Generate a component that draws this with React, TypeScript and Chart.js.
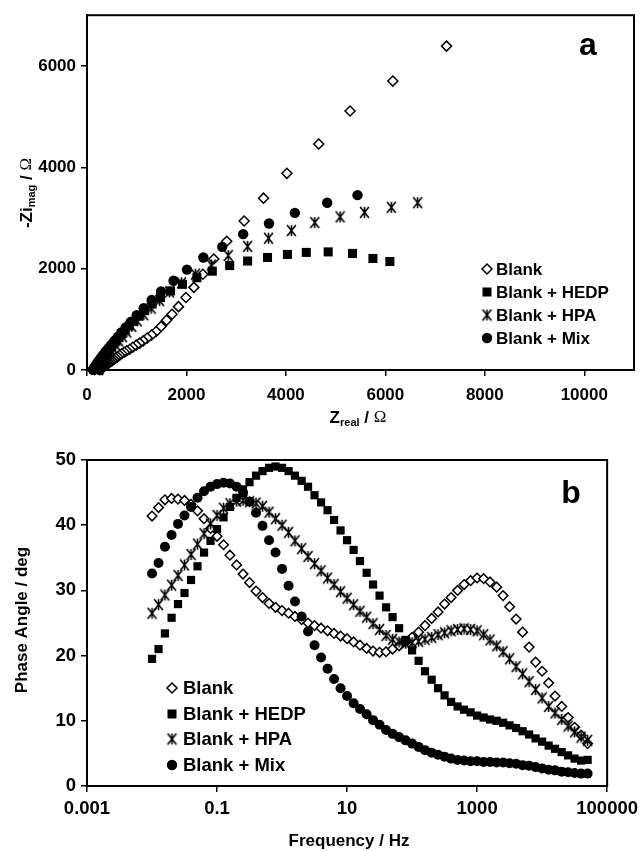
import React, { useEffect, useRef } from "react";
import { Chart, registerables } from "chart.js";
Chart.register(...registerables);

const FONT = "'Liberation Sans', Arial, Helvetica, sans-serif";
const SERIF = "'Liberation Serif', 'DejaVu Serif', serif";

const seriesLabels = ["Blank", "Blank + HEDP", "Blank + HPA", "Blank + Mix"];

// ---------- Panel a : Nyquist (Z real, -Z imag) in ohm ----------
const blankZre = [7230, 6150, 5290, 4660, 4020, 3550, 3160, 2810, 2550, 2330, 2150, 1990, 1840, 1710, 1600, 1490, 1390, 1300, 1210, 1130, 1060, 990, 920, 860, 800, 750, 700, 655, 615, 575, 540, 505, 475, 445, 420, 395, 370, 350, 330, 315, 300, 290, 280, 270, 260];
const blankZim = [6390, 5700, 5110, 4460, 3880, 3390, 2940, 2540, 2190, 1890, 1630, 1430, 1250, 1100, 980, 860, 760, 690, 630, 575, 530, 490, 450, 410, 380, 350, 320, 290, 260, 235, 210, 185, 165, 145, 125, 110, 95, 80, 65, 52, 40, 30, 20, 12, 5];

const hedpZre = [6090, 5750, 5340, 4850, 4410, 4030, 3630, 3230, 2870, 2520, 2210, 1920, 1680, 1480, 1310, 1160, 1040, 940, 850, 770, 700, 640, 585, 535, 490, 450, 415, 385, 355, 330, 310, 290, 270, 255, 240, 228, 218, 208, 200, 193, 187, 182];
const hedpZim = [2140, 2200, 2300, 2330, 2320, 2280, 2220, 2150, 2060, 1950, 1820, 1690, 1560, 1430, 1300, 1170, 1060, 960, 870, 790, 710, 640, 575, 515, 460, 410, 360, 315, 275, 240, 205, 175, 145, 120, 100, 80, 62, 47, 34, 23, 14, 7];

const hpaZre = [6650, 6120, 5580, 5090, 4580, 4110, 3650, 3230, 2840, 2500, 2180, 1900, 1660, 1460, 1290, 1140, 1010, 900, 800, 715, 640, 575, 520, 470, 430, 395, 365, 340, 318, 300, 285, 272, 262, 253, 246, 240, 235, 231, 228];
const hpaZim = [3300, 3210, 3110, 3020, 2910, 2750, 2600, 2440, 2260, 2070, 1890, 1720, 1540, 1370, 1220, 1090, 970, 860, 750, 655, 570, 495, 430, 375, 325, 280, 240, 205, 172, 145, 120, 98, 80, 63, 49, 37, 27, 18, 10];

const mixZre = [5440, 4830, 4180, 3660, 3140, 2720, 2340, 2010, 1740, 1490, 1300, 1140, 1000, 880, 780, 690, 615, 550, 490, 440, 395, 355, 320, 290, 262, 238, 216, 198, 182, 168, 156, 146, 138, 131, 126, 122];
const mixZim = [3450, 3300, 3100, 2890, 2680, 2430, 2220, 1980, 1760, 1550, 1380, 1220, 1080, 950, 840, 740, 650, 570, 500, 440, 385, 335, 290, 250, 212, 178, 147, 120, 96, 75, 57, 42, 29, 18, 10, 4];

const nyqXTicks = [0, 2000, 4000, 6000, 8000, 10000];
const nyqYTicks = [0, 2000, 4000, 6000];

// ---------- Panel b : Bode phase ----------
const freqHz = [
  0.01, 0.0126, 0.0158, 0.02, 0.0251, 0.0316, 0.0398, 0.0501, 0.0631, 0.0794,
  0.1, 0.126, 0.158, 0.2, 0.251, 0.316, 0.398, 0.501, 0.631, 0.794,
  1, 1.26, 1.58, 2, 2.51, 3.16, 3.98, 5.01, 6.31, 7.94,
  10, 12.6, 15.8, 20, 25.1, 31.6, 39.8, 50.1, 63.1, 79.4,
  100, 126, 158, 200, 251, 316, 398, 501, 631, 794,
  1000, 1260, 1580, 2000, 2510, 3160, 3980, 5010, 6310, 7940,
  10000, 12600, 15800, 20000, 25100, 31600, 39800, 50100,
];
const blankPhase = [
  41.4, 42.7, 43.9, 44.1, 44.0, 43.8, 43.2, 42.2, 41.0, 39.5,
  38.3, 37.0, 35.4, 33.9, 32.5, 31.2, 29.9, 28.9, 28.0, 27.4,
  26.9, 26.5, 26.0, 25.5, 25.0, 24.6, 24.2, 23.8, 23.4, 23.0,
  22.6, 22.1, 21.6, 21.1, 20.7, 20.5, 20.6, 21.0, 21.5, 22.1,
  22.8, 23.6, 24.6, 25.7, 26.7, 27.9, 28.9, 30.0, 30.9, 31.5,
  31.9, 31.8, 31.3, 30.5, 29.2, 27.5, 25.6, 23.6, 21.3, 19.0,
  17.6, 15.8, 13.8, 12.2, 10.5, 9.0, 7.8, 6.5,
];
const hedpPhase = [
  19.5, 21.0, 23.4, 25.8, 27.9, 29.6, 31.6, 33.7, 35.8, 37.6,
  39.4, 41.2, 42.8, 44.2, 45.5, 46.6, 47.6, 48.3, 48.8, 49.0,
  48.8, 48.3, 47.6, 46.8, 45.9, 44.6, 43.5, 42.3, 40.8, 39.2,
  37.7, 36.2, 34.5, 32.7, 30.9, 29.2, 27.4, 25.9, 24.2, 22.4,
  20.8, 19.2, 17.6, 16.3, 15.0, 13.9, 12.9, 12.2, 11.7, 11.3,
  10.8, 10.5, 10.2, 10.0, 9.7, 9.3, 8.9, 8.4, 7.9, 7.3,
  6.8, 6.2, 5.7, 5.2, 4.7, 4.2, 3.9, 4.0,
];
const hpaPhase = [
  26.5, 27.8, 29.3, 30.8, 32.3, 33.9, 35.5, 37.1, 38.7, 40.2,
  41.5, 42.6, 43.3, 43.7, 43.8, 43.6, 43.4, 42.9, 42.0, 41.0,
  40.0, 38.9, 37.6, 36.4, 35.2, 34.1, 33.0, 31.9, 30.9, 29.8,
  28.8, 27.8, 26.8, 25.9, 24.9, 24.0, 23.1, 22.5, 22.1, 21.9,
  22.0, 22.2, 22.5, 22.8, 23.2, 23.5, 23.8, 24.0, 24.1, 24.0,
  23.8, 23.2, 22.4, 21.5, 20.6, 19.5, 18.3, 17.2, 16.0, 14.8,
  13.5, 12.2, 11.2, 10.2, 9.2, 8.3, 7.5, 7.0,
];
const mixPhase = [
  32.6, 34.2, 36.7, 38.5, 40.2, 41.5, 42.8, 44.2, 45.2, 45.9,
  46.3, 46.5, 46.4, 45.9, 45.0, 43.6, 41.9, 39.9, 37.7, 35.8,
  33.3, 30.7, 28.3, 26.0, 23.7, 21.6, 19.7, 18.0, 16.4, 15.0,
  13.8, 12.7, 11.8, 11.0, 10.1, 9.4, 8.6, 8.0, 7.5, 7.0,
  6.5, 6.0, 5.5, 5.1, 4.8, 4.5, 4.2, 4.0, 3.9, 3.8,
  3.8, 3.7, 3.7, 3.6, 3.6, 3.5, 3.4, 3.2, 3.1, 2.9,
  2.7, 2.5, 2.4, 2.2, 2.1, 2.0, 1.9, 1.9,
];

const bodeXTicks = [0.001, 0.1, 10, 1000, 100000];
const bodeXLabels = ["0.001", "0.1", "10", "1000", "100000"];
const bodeYTicks = [0, 10, 20, 30, 40, 50];

function makeStar(size: number, lw: number): HTMLCanvasElement {
  const c = document.createElement("canvas");
  c.width = size;
  c.height = size;
  const ctx = c.getContext("2d")!;
  ctx.strokeStyle = "#000";
  ctx.lineWidth = lw;
  const m = size / 2;
  const r = size / 2 - 1;
  ctx.beginPath();
  ctx.moveTo(m - r * 0.8, m - r);
  ctx.lineTo(m + r * 0.8, m + r);
  ctx.moveTo(m + r * 0.8, m - r);
  ctx.lineTo(m - r * 0.8, m + r);
  ctx.moveTo(m, m - r);
  ctx.lineTo(m, m + r);
  ctx.stroke();
  return c;
}

function ds(label: string, xs: number[], ys: number[], style: any, order: number) {
  return {
    label,
    data: xs.map((x, i) => ({ x, y: ys[i] })),
    showLine: false,
    order,
    clip: false,
    ...style,
  };
}

function axis(type: string, min: number, max: number, values: number[], labels: string[], fitKey: string, fitVal: number, pad: number, fontSize: number) {
  return {
    type,
    min,
    max,
    afterBuildTicks: (s: any) => {
      s.ticks = values.map((v) => ({ value: v }));
    },
    afterFit: (s: any) => {
      s[fitKey] = fitVal;
    },
    ticks: {
      color: "#000",
      font: { family: FONT, size: fontSize, weight: "bold" },
      padding: pad,
      autoSkip: false,
      maxRotation: 0,
      minRotation: 0,
      callback: (_v: any, i: number) => labels[i],
    },
    grid: { drawOnChartArea: false, drawTicks: true, tickLength: 6, color: "#000", lineWidth: 1.5 },
    border: { display: true, color: "#000", width: 2 },
  };
}

type Part = { t: string; font: string; dy?: number };

function drawParts(ctx: CanvasRenderingContext2D, parts: Part[], cx: number, cy: number, rotate: boolean) {
  ctx.save();
  ctx.translate(cx, cy);
  if (rotate) ctx.rotate(-Math.PI / 2);
  ctx.textBaseline = "middle";
  ctx.textAlign = "left";
  ctx.fillStyle = "#000";
  let total = 0;
  const widths = parts.map((p) => {
    ctx.font = p.font;
    const w = ctx.measureText(p.t).width;
    total += w;
    return w;
  });
  let x = -total / 2;
  parts.forEach((p, i) => {
    ctx.font = p.font;
    ctx.fillText(p.t, x, p.dy || 0);
    x += widths[i];
  });
  ctx.restore();
}

function drawMarker(ctx: CanvasRenderingContext2D, kind: string, x: number, y: number, star: HTMLCanvasElement) {
  ctx.save();
  ctx.fillStyle = "#000";
  ctx.strokeStyle = "#000";
  if (kind === "diamond") {
    const r = 5;
    ctx.beginPath();
    ctx.moveTo(x, y - r);
    ctx.lineTo(x + r, y);
    ctx.lineTo(x, y + r);
    ctx.lineTo(x - r, y);
    ctx.closePath();
    ctx.fillStyle = "#fff";
    ctx.fill();
    ctx.lineWidth = 1.5;
    ctx.stroke();
  } else if (kind === "square") {
    ctx.fillRect(x - 4.5, y - 4.5, 9, 9);
  } else if (kind === "star") {
    ctx.drawImage(star, x - star.width / 2, y - star.height / 2);
  } else {
    ctx.beginPath();
    ctx.arc(x, y, 5.2, 0, Math.PI * 2);
    ctx.fill();
  }
  ctx.restore();
}

const markerKinds = ["diamond", "square", "star", "circle"];

function decor(cfg: any) {
  return {
    id: "decor" + cfg.name,
    afterDraw(chart: any) {
      const ctx: CanvasRenderingContext2D = chart.ctx;
      const a = chart.chartArea;
      ctx.save();
      ctx.strokeStyle = "#000";
      ctx.lineWidth = 2;
      ctx.strokeRect(a.left, a.top, a.right - a.left, a.bottom - a.top);
      ctx.fillStyle = "#000";
      ctx.font = `bold ${cfg.panelSize}px ${FONT}`;
      ctx.textAlign = "center";
      ctx.textBaseline = "middle";
      ctx.fillText(cfg.panel, cfg.panelX, cfg.panelY);
      seriesLabels.forEach((lab, i) => {
        const y = cfg.legendRows[i];
        drawMarker(ctx, markerKinds[i], cfg.legendMarkerX, y, cfg.star);
        ctx.fillStyle = "#000";
        ctx.font = `bold ${cfg.legendSize}px ${FONT}`;
        ctx.textAlign = "left";
        ctx.textBaseline = "middle";
        ctx.fillText(lab, cfg.legendTextX, y + 1);
      });
      ctx.restore();
      drawParts(ctx, cfg.xTitle, cfg.xTitleX, cfg.xTitleY, false);
      drawParts(ctx, cfg.yTitle, cfg.yTitleX, cfg.yTitleY, true);
    },
  };
}

export default function App() {
  const topRef = useRef<HTMLCanvasElement>(null);
  const botRef = useRef<HTMLCanvasElement>(null);

  useEffect(() => {
    const starTop = makeStar(13, 1.6);
    const starBot = makeStar(13, 1.6);
    const bold17 = `bold 17px ${FONT}`;
    const bold11 = `bold 11px ${FONT}`;
    const omega = `17px ${SERIF}`;

    const top = new Chart(topRef.current!, {
      type: "scatter",
      data: {
        datasets: [
          ds(seriesLabels[0], blankZre, blankZim, { pointStyle: "rectRot", pointRadius: 5, backgroundColor: "#fff", borderColor: "#000", borderWidth: 1.5 }, 4),
          ds(seriesLabels[1], hedpZre, hedpZim, { pointStyle: "rect", pointRadius: 6.4, backgroundColor: "#000", borderColor: "#000", borderWidth: 0 }, 3),
          ds(seriesLabels[2], hpaZre, hpaZim, { pointStyle: starTop, pointRadius: 6 }, 2),
          ds(seriesLabels[3], mixZre, mixZim, { pointStyle: "circle", pointRadius: 5.2, backgroundColor: "#000", borderColor: "#000", borderWidth: 0 }, 1),
        ] as any,
      },
      options: {
        responsive: false,
        animation: false,
        events: [],
        layout: { padding: { left: 0, top: 13, right: 10, bottom: 0 } },
        plugins: { legend: { display: false }, tooltip: { enabled: false } },
        scales: {
          x: axis("linear", 0, 11000, nyqXTicks, nyqXTicks.map(String), "height", 60, 9, 17),
          y: axis("linear", 0, 7000, nyqYTicks, nyqYTicks.map(String), "width", 87, 5, 17),
        } as any,
      },
      plugins: [
        decor({
          name: "a",
          panel: "a",
          panelSize: 32,
          panelX: 588,
          panelY: 46,
          legendSize: 17,
          legendRows: [269, 292, 315, 338],
          legendMarkerX: 487,
          legendTextX: 496,
          star: starTop,
          xTitle: [
            { t: "Z", font: bold17 },
            { t: "real", font: bold11, dy: 5 },
            { t: " / ", font: bold17 },
            { t: "Ω", font: omega },
          ],
          xTitleX: 358,
          xTitleY: 418,
          yTitle: [
            { t: "-Zi", font: bold17 },
            { t: "mag", font: bold11, dy: 5 },
            { t: " / ", font: bold17 },
            { t: "Ω", font: omega },
          ],
          yTitleX: 27,
          yTitleY: 193,
        }),
      ],
    });

    const bot = new Chart(botRef.current!, {
      type: "scatter",
      data: {
        datasets: [
          ds(seriesLabels[0], freqHz, blankPhase, { pointStyle: "rectRot", pointRadius: 4.8, backgroundColor: "#fff", borderColor: "#000", borderWidth: 1.5 }, 4),
          ds(seriesLabels[1], freqHz, hedpPhase, { pointStyle: "rect", pointRadius: 5.8, backgroundColor: "#000", borderColor: "#000", borderWidth: 0 }, 3),
          ds(seriesLabels[2], freqHz, hpaPhase, { pointStyle: starBot, pointRadius: 6 }, 2),
          ds(seriesLabels[3], freqHz, mixPhase, { pointStyle: "circle", pointRadius: 5, backgroundColor: "#000", borderColor: "#000", borderWidth: 0 }, 1),
        ] as any,
      },
      options: {
        responsive: false,
        animation: false,
        events: [],
        layout: { padding: { left: 0, top: 30, right: 33, bottom: 0 } },
        plugins: { legend: { display: false }, tooltip: { enabled: false } },
        scales: {
          x: axis("logarithmic", 0.001, 100000, bodeXTicks, bodeXLabels, "height", 65, 6, 18.5),
          y: axis("linear", 0, 50, bodeYTicks, bodeYTicks.map(String), "width", 87, 5, 18.5),
        } as any,
      },
      plugins: [
        decor({
          name: "b",
          panel: "b",
          panelSize: 32,
          panelX: 571,
          panelY: 64,
          legendSize: 18.5,
          legendRows: [258, 284, 309, 335],
          legendMarkerX: 172,
          legendTextX: 183,
          star: starBot,
          xTitle: [{ t: "Frequency / Hz", font: `bold 17px ${FONT}` }],
          xTitleX: 349,
          xTitleY: 411,
          yTitle: [{ t: "Phase Angle / deg", font: `bold 17px ${FONT}` }],
          yTitleX: 22,
          yTitleY: 190,
        }),
      ],
    });

    return () => {
      top.destroy();
      bot.destroy();
    };
  }, []);

  return (
    <div style={{ position: "absolute", left: 0, top: 0, width: 644, height: 851, background: "#fff" }}>
      <canvas ref={topRef} width={644} height={430} style={{ display: "block", width: 644, height: 430 }} />
      <canvas ref={botRef} width={644} height={421} style={{ display: "block", width: 644, height: 421 }} />
    </div>
  );
}
